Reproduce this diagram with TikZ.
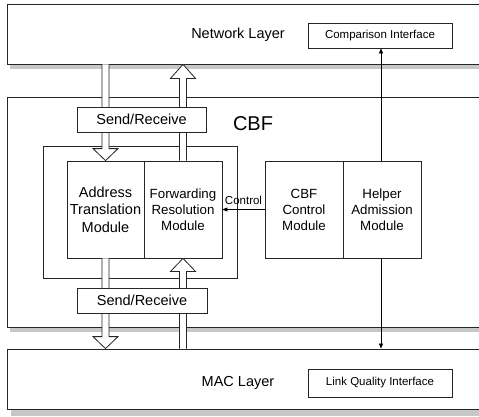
\documentclass[tikz,border=0pt]{standalone}
\usepackage{fontspec}
\setmainfont{Liberation Sans}
\usetikzlibrary{calc,arrows.meta}
\tikzset{
  box/.style={draw=black!85, line width=0.8pt, fill=white, inner sep=0pt},
  shadowbox/.style={fill=black!22, draw=none},
  harr/.style={draw=black!85, line width=0.8pt, fill=white, line join=miter},
  thinarr/.style={draw=black, line width=0.6pt, -{Triangle[length=5pt,width=4pt]}},
  bigtxt/.style={font=\fontsize{14.5}{17}\selectfont, align=center, inner sep=0pt},
  modtxt/.style={font=\fontsize{13.5}{16.5}\selectfont, align=center, inner sep=0pt},
  smalltxt/.style={font=\fontsize{11.5}{13}\selectfont, inner sep=0pt},
}
\newcommand{\harrow}[3]{%
  \filldraw[harr] ($(#1)+(-3.5,0)$) -- ($(#2)+(-3.5,#3)$) -- ($(#2)+(-12.5,#3)$) -- (#2)
    -- ($(#2)+(12.5,#3)$) -- ($(#2)+(3.5,#3)$) -- ($(#1)+(3.5,0)$);}
\begin{document}
\begin{tikzpicture}[x=1pt,y=-1pt]
\useasboundingbox (0,0) rectangle (479,416);
\clip (0,0) rectangle (479,416);
% shadows
\fill[shadowbox] (10,64) rectangle (500,69);
\fill[shadowbox] (10,327) rectangle (500,332);
\fill[shadowbox] (11,409) rectangle (500,416);
% layer boxes
\node[box, minimum width=493, minimum height=60] (net) at (253.5,34) {};
\node[box, minimum width=493, minimum height=230] (cbf) at (253.5,212) {};
\node[box, minimum width=493, minimum height=60] (mac) at (253.5,379) {};
\node[bigtxt] (netlabel) at (238,35) {Network Layer};
\node[bigtxt] (maclabel) at (238,383) {MAC Layer};
\node[font=\fontsize{20}{22}\selectfont, inner sep=0pt] (cbflabel) at (253,124) {CBF};
\node[box, minimum width=144, minimum height=25] (cmp) at (380,35.5) {};
\node[smalltxt] at (cmp.center) {Comparison Interface};
\node[box, minimum width=144, minimum height=28] (lqi) at (380,383) {};
\node[smalltxt] at (lqi.center) {Link Quality Interface};
% inner container
\draw[draw=black!85, line width=0.8pt] (43,146) rectangle (237,278);
% modules
\node[box, minimum width=77, minimum height=97] (atm) at (105.5,209.5) {};
\node[box, minimum width=78, minimum height=97] (frm) at (183,209.5) {};
\node[box, minimum width=78, minimum height=97] (ccm) at (304,209.5) {};
\node[box, minimum width=78, minimum height=97] (ham) at (382,209.5) {};
\node[bigtxt, font=\fontsize{14.5}{17.5}\selectfont] at (atm.center) {Address\\Translation\\Module};
\node[modtxt, font=\fontsize{13.3}{16}\selectfont] at (frm.center) {Forwarding\\Resolution\\Module};
\node[modtxt, font=\fontsize{13.3}{16}\selectfont] at (ccm.center) {CBF\\Control\\Module};
\node[modtxt, font=\fontsize{13.3}{16}\selectfont] at (ham.center) {Helper\\Admission\\Module};
% hollow arrows
\coordinate (d1s) at (atm.north |- net.south);
\coordinate (u1t) at (frm.north |- net.south);
\coordinate (d2t) at (atm.south |- mac.north);
\coordinate (u2s) at (frm.south |- mac.north);
\harrow{d1s}{atm.north}{-12}
\harrow{frm.north}{u1t}{14}
\harrow{atm.south}{d2t}{-12}
\harrow{u2s}{frm.south}{13}
% send/receive boxes
\node[box, bigtxt, draw=black!85, fill=white, minimum width=129, minimum height=25] (sr1) at (141.5,119.5) {Send/Receive};
\node[box, bigtxt, draw=black!85, fill=white, minimum width=130, minimum height=25] (sr2) at (142,300.5) {Send/Receive};
% thin arrows
\coordinate (hx) at (381,0);
\draw[thinarr] (hx |- ham.north) -- (hx |- cmp.south);
\draw[thinarr] (hx |- ham.south) -- (hx |- mac.north);
\draw[thinarr] (ccm.west) -- (frm.east) node[midway, above=5pt, smalltxt] (ctl) {Control};
\end{tikzpicture}
\end{document}
